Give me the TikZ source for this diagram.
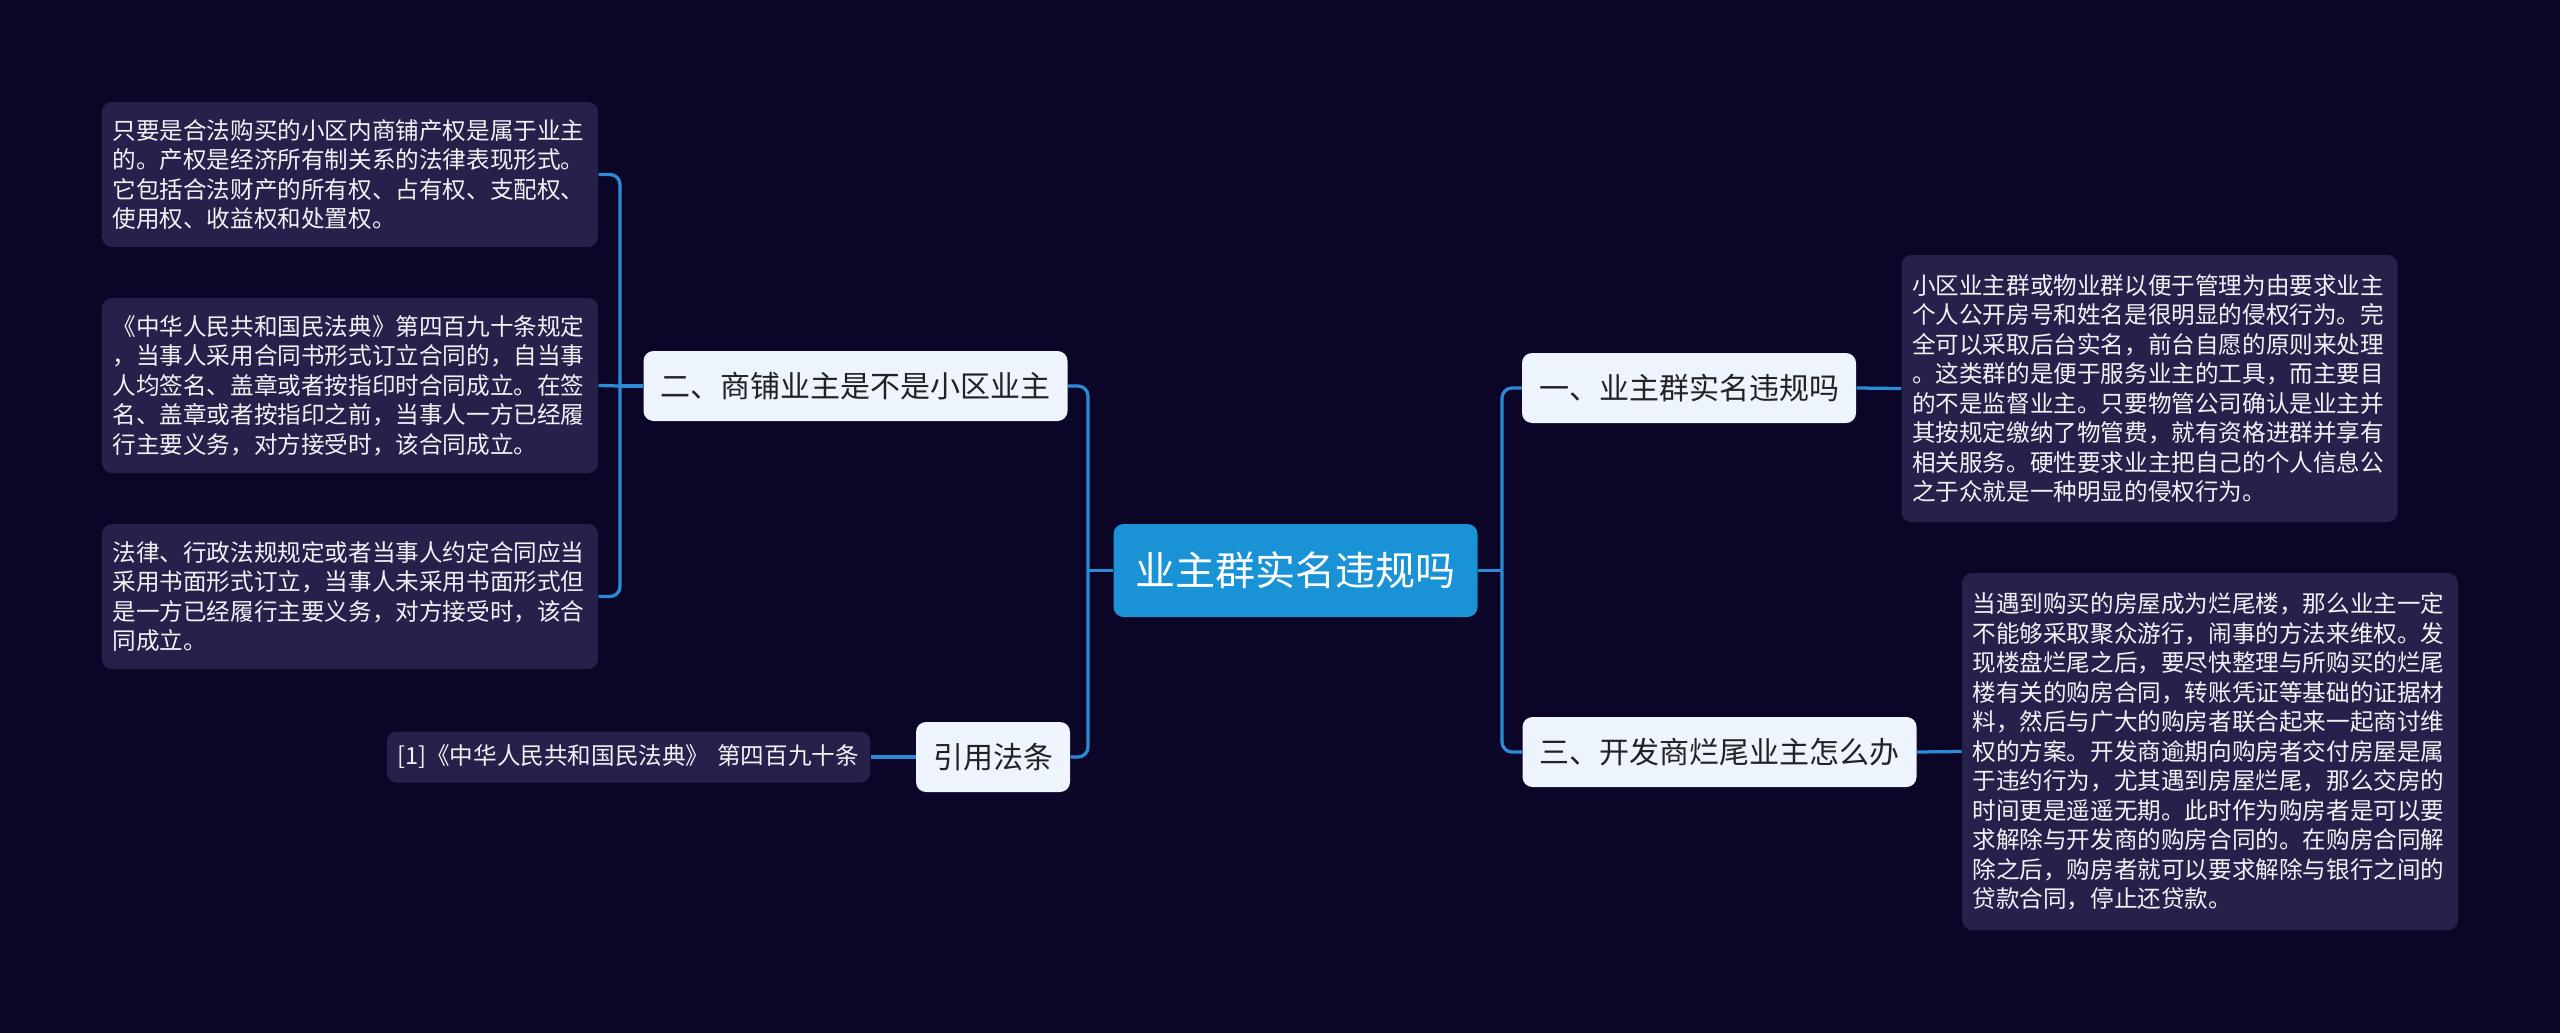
\documentclass[tikz,border=0pt]{standalone}
\usepackage{fontspec}
\setmainfont{Noto Sans CJK SC}
\definecolor{bgcol}{HTML}{0B0527}
\definecolor{linkcol}{HTML}{2A8BD6}
\definecolor{rootcol}{HTML}{1A92D6}
\definecolor{topiccol}{HTML}{EEF4FD}
\definecolor{topictext}{HTML}{222222}
\definecolor{notecol}{HTML}{25214A}
\definecolor{notetext}{HTML}{F2F2F6}
\begin{document}
\begin{tikzpicture}[x=0.4pt,y=-0.4pt,
  link/.style={draw=linkcol, line width=1.3pt, rounded corners=4pt},
  rootbox/.style={fill=rootcol, text=white, rounded corners=4pt, font=\fontsize{16}{19}\selectfont, minimum height=37.2pt, inner xsep=8.8pt},
  topicbox/.style={fill=topiccol, text=topictext, rounded corners=4pt, font=\fontsize{12}{14}\selectfont, minimum height=28pt, inner xsep=6.8pt},
  notebox/.style={fill=notecol, text=notetext, rounded corners=4pt, font=\fontsize{9.44}{11.8}\selectfont, align=left, text width=190pt, inner xsep=4.2pt}]
\fill[bgcol] (0,0) rectangle (2560,1033);
\useasboundingbox (0,0) rectangle (2560,1033);

\node (root) [rootbox] at (1295.5,570.5) {业主群实名违规吗};

\node (t1) [topicbox] at (1689,388) {一、业主群实名违规吗};
\node (t3) [topicbox] at (1719.5,752) {三、开发商烂尾业主怎么办};
\node (t2) [topicbox] at (855.5,386) {二、商铺业主是不是小区业主};
\node (law) [topicbox] at (993,757) {引用法条};

\node (n1) [notebox, minimum height=106.8pt] at (2149.5,388.5) {小区业主群或物业群以便于管理为由要求业主\\个人公开房号和姓名是很明显的侵权行为。完\\全可以采取后台实名，前台自愿的原则来处理\\。这类群的是便于服务业主的工具，而主要目\\的不是监督业主。只要物管公司确认是业主并\\其按规定缴纳了物管费，就有资格进群并享有\\相关服务。硬性要求业主把自己的个人信息公\\之于众就是一种明显的侵权行为。};
\node (n3) [notebox, minimum height=142.8pt] at (2210,751.5) {当遇到购买的房屋成为烂尾楼，那么业主一定\\不能够采取聚众游行，闹事的方法来维权。发\\现楼盘烂尾之后，要尽快整理与所购买的烂尾\\楼有关的购房合同，转账凭证等基础的证据材\\料，然后与广大的购房者联合起来一起商讨维\\权的方案。开发商逾期向购房者交付房屋是属\\于违约行为，尤其遇到房屋烂尾，那么交房的\\时间更是遥遥无期。此时作为购房者是可以要\\求解除与开发商的购房合同的。在购房合同解\\除之后，购房者就可以要求解除与银行之间的\\贷款合同，停止还贷款。};
\node (n21) [notebox, minimum height=58pt] at (350,174.5) {只要是合法购买的小区内商铺产权是属于业主\\的。产权是经济所有制关系的法律表现形式。\\它包括合法财产的所有权、占有权、支配权、\\使用权、收益权和处置权。};
\node (n22) [notebox, minimum height=70pt] at (350,385.5) {《中华人民共和国民法典》第四百九十条规定\\，当事人采用合同书形式订立合同的，自当事\\人均签名、盖章或者按指印时合同成立。在签\\名、盖章或者按指印之前，当事人一方已经履\\行主要义务，对方接受时，该合同成立。};
\node (n23) [notebox, minimum height=58pt] at (350,596.5) {法律、行政法规规定或者当事人约定合同应当\\采用书面形式订立，当事人未采用书面形式但\\是一方已经履行主要义务，对方接受时，该合\\同成立。};
\node (cite) [notebox, text width=185pt, minimum height=20.4pt] at (628.5,757) {[1]《中华人民共和国民法典》 第四百九十条};

\coordinate (rfork) at (1502,570.5);
\coordinate (lfork) at (1088,570.5);
\coordinate (t2fork) at (620,386);

\draw[link] (root.east) -- (rfork);
\draw[link] (rfork) |- (t1.west);
\draw[link] (rfork) |- (t3.west);
\draw[link] (root.west) -- (lfork);
\draw[link] (lfork) |- (t2.east);
\draw[link] (lfork) |- (law.east);
\draw[link] (t1.east) -- (n1.west);
\draw[link] (t3.east) -- (n3.west);
\draw[link] (t2.west) -- (t2fork);
\draw[link] (t2fork) |- (n21.east);
\draw[link] (t2fork) -- (n22.east);
\draw[link] (t2fork) |- (n23.east);
\draw[link] (law.west) -- (cite.east);
\end{tikzpicture}
\end{document}
